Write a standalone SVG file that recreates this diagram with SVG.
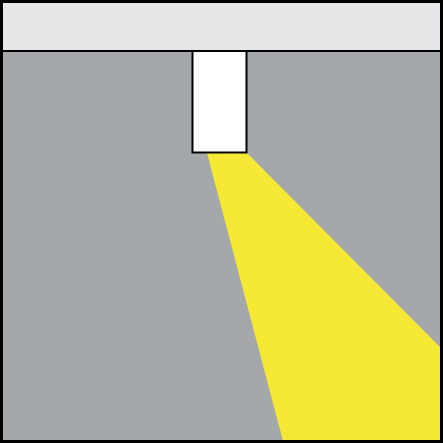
<svg xmlns="http://www.w3.org/2000/svg" width="443" height="443" viewBox="0 0 443 443">
<style>
.line{stroke:#000;fill:none}
</style>
<rect x="0" y="0" width="443" height="443" fill="#a5a8ab"/>
<rect x="0" y="0" width="443" height="51" fill="#e7e7ea"/>
<g id="beam"><polygon points="207,153 247,153 441,348 441,441 283,441" fill="#f5e935"/></g>
<line class="line" x1="0" y1="51" x2="443" y2="51" stroke-width="2"/>
<g id="fixture"><rect x="192.5" y="51" width="54" height="101.5" fill="#fff" stroke="#000" stroke-width="2"/></g>
<rect x="1.5" y="1.5" width="440" height="440" class="line" stroke-width="3"/>
</svg>
